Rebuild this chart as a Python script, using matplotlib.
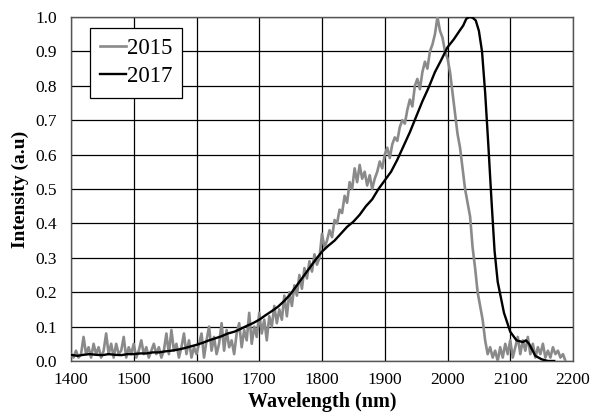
import numpy as np
import matplotlib
matplotlib.use("Agg")
import matplotlib.pyplot as plt

plt.rcParams['font.family'] = ['Liberation Serif', 'DejaVu Serif']

# 2015 spectrum (4 nm steps from 1400 nm)
wl_2015 = np.arange(1400, 2192, 4)
int_2015 = [
    0.02, 0.01, 0.03, 0.01, 0.02, 0.07, 0.02, 0.04, 0.01, 0.05,
    0.02, 0.04, 0.01, 0.03, 0.08, 0.02, 0.05, 0.01, 0.05, 0.02,
    0.03, 0.07, 0.01, 0.04, 0.02, 0.05, 0.01, 0.03, 0.06, 0.02,
    0.04, 0.01, 0.03, 0.05, 0.02, 0.04, 0.01, 0.03, 0.08, 0.02,
    0.09, 0.03, 0.05, 0.01, 0.04, 0.08, 0.02, 0.06, 0.01, 0.04,
    0.02, 0.05, 0.08, 0.01, 0.06, 0.10, 0.03, 0.07, 0.02, 0.05,
    0.11, 0.03, 0.09, 0.04, 0.06, 0.02, 0.08, 0.11, 0.04, 0.09,
    0.06, 0.14, 0.05, 0.10, 0.07, 0.14, 0.08, 0.12, 0.06, 0.13,
    0.10, 0.16, 0.11, 0.15, 0.12, 0.19, 0.13, 0.20, 0.16, 0.22,
    0.19, 0.25, 0.21, 0.27, 0.24, 0.29, 0.26, 0.31, 0.28, 0.30,
    0.37, 0.33, 0.35, 0.38, 0.36, 0.41, 0.40, 0.44, 0.43, 0.48,
    0.46, 0.52, 0.50, 0.56, 0.52, 0.57, 0.53, 0.55, 0.51, 0.54,
    0.50, 0.53, 0.55, 0.58, 0.56, 0.60, 0.62, 0.59, 0.63, 0.65,
    0.64, 0.68, 0.70, 0.69, 0.73, 0.76, 0.74, 0.80, 0.82, 0.79,
    0.84, 0.87, 0.85, 0.90, 0.92, 0.95, 1.00, 0.96, 0.94, 0.90,
    0.88, 0.84, 0.78, 0.72, 0.66, 0.62, 0.56, 0.50, 0.46, 0.42,
    0.33, 0.27, 0.20, 0.16, 0.12, 0.06, 0.02, 0.04, 0.01, 0.03,
    0.00, 0.04, 0.01, 0.05, 0.02, 0.06, 0.01, 0.04, 0.07, 0.02,
    0.06, 0.03, 0.07, 0.02, 0.05, 0.01, 0.04, 0.02, 0.05, 0.01,
    0.03, 0.01, 0.04, 0.02, 0.03, 0.01, 0.02, 0.00,
]

# 2017 spectrum
wl_2017 = [1400, 1410, 1420, 1430, 1440, 1450, 1460, 1470, 1480, 1490,
           1500, 1510, 1520, 1530, 1540, 1550, 1560, 1570, 1580, 1590,
           1600, 1610, 1620, 1630, 1640, 1650, 1660, 1670, 1680, 1690,
           1700, 1710, 1720, 1730, 1740, 1750, 1760, 1770, 1780, 1790,
           1800, 1810, 1820, 1830, 1840, 1850, 1860, 1870, 1880, 1890,
           1900, 1910, 1920, 1930, 1940, 1950, 1960, 1970, 1980, 1990,
           2000, 2010, 2020, 2025, 2030, 2035, 2040, 2045, 2050, 2055,
           2060, 2065, 2070, 2075, 2080, 2090, 2100, 2110, 2120, 2125,
           2130, 2140, 2150, 2160, 2170]
int_2017 = [0.018, 0.015, 0.018, 0.020, 0.018, 0.017, 0.020, 0.018, 0.017, 0.020,
            0.020, 0.022, 0.022, 0.025, 0.025, 0.028, 0.030, 0.033, 0.037, 0.042,
            0.047, 0.053, 0.060, 0.066, 0.072, 0.080, 0.085, 0.093, 0.102, 0.110,
            0.120, 0.133, 0.145, 0.158, 0.175, 0.195, 0.220, 0.245, 0.270, 0.295,
            0.318, 0.335, 0.350, 0.370, 0.390, 0.405, 0.425, 0.450, 0.470, 0.500,
            0.525, 0.550, 0.585, 0.625, 0.665, 0.710, 0.755, 0.795, 0.840, 0.875,
            0.912, 0.935, 0.962, 0.975, 0.995, 1.000, 0.998, 0.990, 0.960, 0.900,
            0.780, 0.630, 0.470, 0.320, 0.230, 0.140, 0.085, 0.060, 0.055, 0.060,
            0.050, 0.015, 0.005, 0.000, 0.000]

x_ticks = [1400, 1500, 1600, 1700, 1800, 1900, 2000, 2100, 2200]
y_ticks = [0.0, 0.1, 0.2, 0.3, 0.4, 0.5, 0.6, 0.7, 0.8, 0.9, 1.0]

fig = plt.figure(figsize=(5.93, 4.12), dpi=100)
ax = fig.add_axes([71/593, 1-361/412, 502/593, 344/412])

ax.plot(wl_2015, int_2015, color='#8a8a8a', lw=1.9, label='2015', zorder=3)
ax.plot(wl_2017, int_2017, color='black', lw=1.7, label='2017', zorder=4)

ax.set_xlim(1400, 2200)
ax.set_ylim(0, 1.0)
ax.set_xticks(x_ticks)
ax.set_yticks(y_ticks)
ax.set_yticklabels([f"{v:.1f}" for v in y_ticks])
ax.tick_params(length=0, labelsize=12.5)
ax.tick_params(axis='y', pad=10)
ax.tick_params(axis='x', pad=8)
ax.grid(True, color='black', lw=0.9)
ax.set_axisbelow(True)
for s in ax.spines.values():
    s.set_color('#555555')
    s.set_linewidth(1.0)

ax.set_xlabel('Wavelength (nm)', fontsize=14.5, fontweight='bold', labelpad=3)
ax.set_ylabel('Intensity (a.u)', fontsize=14, fontweight='bold', labelpad=5)

leg = ax.legend(loc='upper left', bbox_to_anchor=(0.038, 0.968), fontsize=16.5,
                frameon=True, fancybox=False, handlelength=1.1, handletextpad=0.05,
                borderpad=0.45, labelspacing=0.3, borderaxespad=0)
leg.get_frame().set_edgecolor('black')
leg.get_frame().set_linewidth(0.9)
leg.get_frame().set_alpha(1)

fig.savefig('out.png', dpi=100)
